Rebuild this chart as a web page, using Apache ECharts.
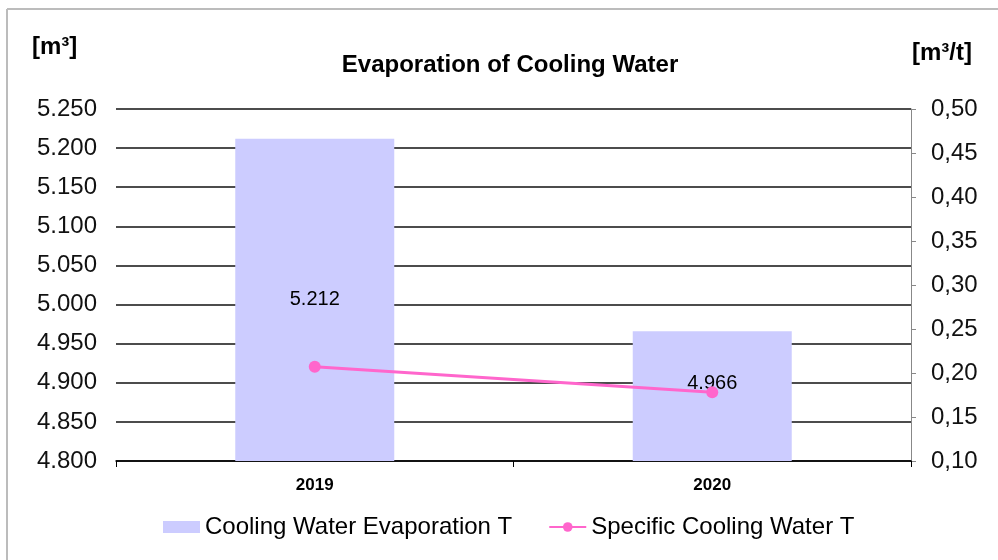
<!DOCTYPE html>
<html>
<head>
<meta charset="utf-8">
<title>Evaporation of Cooling Water</title>
<script src="https://cdn.jsdelivr.net/npm/echarts@6/dist/echarts.min.js"></script>
<style>
  html, body { margin: 0; padding: 0; background: #fff; }
  #main { width: 998px; height: 560px; }
</style>
</head>
<body>
<div id="main"></div>
<script>
// data
var years = ['2019', '2020'];
var evaporation = [5.212, 4.966];     // [m³]
var specific = [0.207, 0.178];        // [m³/t]
var leftTicks = { min: 4.8, max: 5.25, step: 0.05 };
var rightTicks = { min: 0.1, max: 0.5, step: 0.05 };

var chart = echarts.init(document.getElementById('main'));
var font = '"Liberation Sans", Arial, sans-serif';

// the 2020 label sits a bit above the bar centre in the original
var barData = evaporation.map(function (v, i) {
  return i === 1 ? { value: v, label: { offset: [0, -13] } } : v;
});

var option = {
  backgroundColor: '#fff',
  textStyle: { fontFamily: font },
  title: {
    text: 'Evaporation of Cooling Water',
    left: 505, top: 48, textAlign: 'center',
    textStyle: { fontFamily: font, fontSize: 24, fontWeight: 'bold', color: '#000' }
  },
  graphic: [
    { type: 'line', shape: { x1: 7, y1: 9, x2: 998, y2: 9 }, style: { stroke: '#bcbcbc', lineWidth: 2 } },
    { type: 'line', shape: { x1: 7, y1: 9, x2: 7, y2: 560 }, style: { stroke: '#bcbcbc', lineWidth: 2 } },
    { type: 'text', left: 32, top: 35, style: { text: '[m³]', font: 'bold 24px ' + font, fill: '#000' } },
    { type: 'text', left: 912, top: 41, style: { text: '[m³/t]', font: 'bold 24px ' + font, fill: '#000' } }
  ],
  grid: { left: 116, right: 87, top: 109, bottom: 99 },
  legend: {
    top: 510, left: 158, itemGap: 36, itemWidth: 37, itemHeight: 12,
    textStyle: { fontFamily: font, fontSize: 24, color: '#000' },
    data: [
      { name: 'Cooling Water Evaporation T', icon: 'rect' },
      { name: 'Specific Cooling Water T' }
    ]
  },
  xAxis: {
    type: 'category',
    data: years,
    axisLine: { lineStyle: { color: '#000', width: 1.5 } },
    axisTick: { show: true, length: 6, lineStyle: { color: '#000' } },
    axisLabel: { fontFamily: font, fontSize: 17, fontWeight: 'bold', color: '#000', margin: 16 }
  },
  yAxis: [
    {
      type: 'value', min: leftTicks.min, max: leftTicks.max, interval: leftTicks.step,
      axisLine: { show: false }, axisTick: { show: false },
      splitLine: { lineStyle: { color: '#111', width: 1.5 } },
      axisLabel: {
        fontFamily: font, fontSize: 24, color: '#111', margin: 19,
        formatter: function (v) { return v.toFixed(3); }
      }
    },
    {
      type: 'value', min: rightTicks.min, max: rightTicks.max, interval: rightTicks.step,
      position: 'right',
      axisLine: { show: true, lineStyle: { color: '#888', width: 1 } },
      axisTick: { show: true, length: 5, lineStyle: { color: '#888' } },
      splitLine: { show: false },
      axisLabel: {
        fontFamily: font, fontSize: 24, color: '#111', margin: 20,
        formatter: function (v) { return v.toFixed(2).replace('.', ','); }
      }
    }
  ],
  series: [
    {
      name: 'Cooling Water Evaporation T',
      type: 'bar',
      yAxisIndex: 0,
      barWidth: '40%',
      data: barData,
      itemStyle: { color: '#ccccff' },
      label: {
        show: true, position: 'inside', color: '#000', fontSize: 20, fontFamily: font,
        formatter: function (p) { return p.value.toFixed(3); }
      },
      z: 1
    },
    {
      name: 'Specific Cooling Water T',
      type: 'line',
      yAxisIndex: 1,
      data: specific,
      symbol: 'circle',
      symbolSize: 12,
      lineStyle: { color: '#ff66cc', width: 3 },
      itemStyle: { color: '#ff66cc' },
      z: 3
    }
  ]
};

chart.setOption(option);
</script>
</body>
</html>
